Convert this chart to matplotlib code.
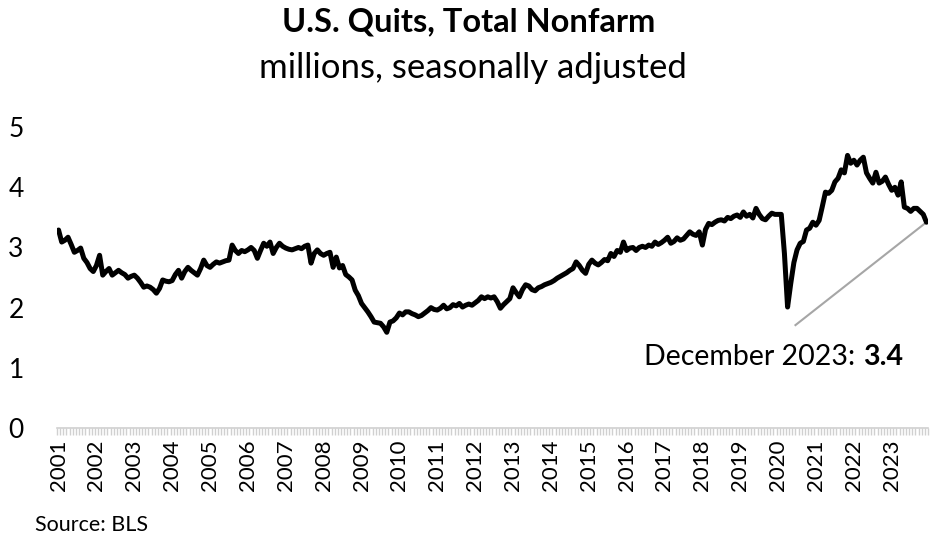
import matplotlib
matplotlib.use("Agg")
import matplotlib.pyplot as plt
import numpy as np

plt.rcParams['font.family'] = ['Lato', 'DejaVu Sans']

# Monthly quits, total nonfarm (millions, SA), Jan 2001 - Dec 2023
q2001 = [3.29, 3.09, 3.12, 3.17, 3.05, 2.92, 2.95, 2.99, 2.82, 2.75, 2.65, 2.60]
q2002 = [2.70, 2.87, 2.54, 2.60, 2.65, 2.54, 2.58, 2.62, 2.58, 2.55, 2.49, 2.52]
q2003 = [2.54, 2.49, 2.42, 2.34, 2.36, 2.34, 2.30, 2.24, 2.32, 2.46, 2.44, 2.43]
q2004 = [2.45, 2.55, 2.62, 2.49, 2.60, 2.67, 2.62, 2.58, 2.54, 2.65, 2.79, 2.70]
q2005 = [2.67, 2.72, 2.76, 2.74, 2.76, 2.78, 2.79, 3.04, 2.95, 2.90, 2.95, 2.93]
q2006 = [2.96, 3.00, 2.95, 2.82, 2.95, 3.07, 3.02, 3.09, 2.90, 3.00, 3.07, 3.02]
q2007 = [2.99, 2.97, 2.96, 2.98, 3.00, 2.98, 3.02, 3.04, 2.74, 2.90, 2.96, 2.90]
q2008 = [2.87, 2.90, 2.92, 2.67, 2.84, 2.66, 2.70, 2.55, 2.51, 2.46, 2.29, 2.20]
q2009 = [2.07, 2.00, 1.93, 1.85, 1.76, 1.75, 1.74, 1.68, 1.59, 1.76, 1.78, 1.83]
q2010 = [1.91, 1.88, 1.93, 1.93, 1.90, 1.88, 1.85, 1.87, 1.91, 1.95, 2.00, 1.97]
q2011 = [1.96, 1.99, 2.04, 1.98, 2.00, 2.05, 2.03, 2.07, 2.01, 2.04, 2.06, 2.04]
q2012 = [2.08, 2.12, 2.18, 2.15, 2.18, 2.16, 2.18, 2.10, 1.99, 2.05, 2.10, 2.15]
q2013 = [2.33, 2.25, 2.18, 2.30, 2.38, 2.36, 2.30, 2.28, 2.33, 2.35, 2.38, 2.40]
q2014 = [2.42, 2.45, 2.49, 2.52, 2.55, 2.58, 2.62, 2.65, 2.76, 2.70, 2.62, 2.57]
q2015 = [2.72, 2.79, 2.74, 2.71, 2.75, 2.80, 2.78, 2.90, 2.85, 2.95, 2.92, 3.09]
q2016 = [2.95, 2.99, 3.00, 2.95, 3.00, 3.02, 3.00, 3.04, 3.02, 3.09, 3.05, 3.08]
q2017 = [3.12, 3.17, 3.07, 3.10, 3.16, 3.12, 3.14, 3.20, 3.26, 3.22, 3.20, 3.26]
q2018 = [3.04, 3.30, 3.40, 3.38, 3.42, 3.45, 3.46, 3.44, 3.50, 3.48, 3.52, 3.54]
q2019 = [3.50, 3.59, 3.52, 3.55, 3.49, 3.65, 3.55, 3.48, 3.46, 3.52, 3.57, 3.55]
q2020 = [3.55, 3.55, 2.90, 2.01, 2.40, 2.75, 2.96, 3.07, 3.10, 3.29, 3.32, 3.42]
q2021 = [3.37, 3.45, 3.68, 3.92, 3.90, 3.95, 4.09, 4.15, 4.29, 4.24, 4.53, 4.40]
q2022 = [4.45, 4.37, 4.45, 4.50, 4.24, 4.15, 4.07, 4.25, 4.07, 4.10, 4.17, 4.05]
q2023 = [3.95, 4.00, 3.87, 4.09, 3.67, 3.65, 3.60, 3.65, 3.65, 3.60, 3.55, 3.42]

years = list(range(2001, 2024))
year_labels = [str(y) for y in years]
values = (q2001 + q2002 + q2003 + q2004 + q2005 + q2006 + q2007 + q2008 + q2009
          + q2010 + q2011 + q2012 + q2013 + q2014 + q2015 + q2016 + q2017 + q2018
          + q2019 + q2020 + q2021 + q2022 + q2023)
yticks = [0, 1, 2, 3, 4, 5]
last_label = "December 2023:"
last_value = "3.4"

n = len(values)
x = np.arange(n)

fig = plt.figure(figsize=(9.31, 5.41), dpi=100)
ax = fig.add_axes([0.0612, 0.2089, 0.9356, 0.5561])

ax.plot(x, values, color='black', lw=3.6, solid_joinstyle='round', solid_capstyle='round')

ax.set_xlim(-0.5, n - 0.5)
ax.set_ylim(0, 5)

# y axis
ax.set_yticks(yticks)
ax.set_yticklabels([str(t) for t in yticks])
ax.tick_params(axis='y', length=0, pad=24, labelsize=19, labelcolor='black')

# x axis: minor ticks at each month boundary, labels at each January
ax.set_xticks([12 * i for i in range(len(years))])
ax.set_xticklabels(year_labels, rotation=90)
ax.set_xticks(np.arange(-0.5, n, 1), minor=True)
ax.tick_params(axis='x', which='major', length=0, pad=8, labelsize=16)
ax.tick_params(axis='x', which='minor', length=5, width=1.0, color='#d0d0d0', direction='out')

for s in ['left', 'right', 'top']:
    ax.spines[s].set_visible(False)
ax.spines['bottom'].set_color('#d0d0d0')
ax.spines['bottom'].set_linewidth(1.2)

# annotation leader line
ax.plot([233.5, n - 1], [1.71, values[-1]], color='#a6a6a6', lw=1.5, zorder=1)
t_val = ax.text(267.5, 1.18, last_value, fontsize=20.5, fontweight='bold',
                ha='right', va='center')
ax.annotate(last_label + " ", xy=(0, 0), xycoords=t_val, ha='right', va='bottom',
            fontsize=20.5)

fig.text(0.503, 0.96, "U.S. Quits, Total Nonfarm", ha='center', va='center',
         fontsize=23.5, fontweight='bold')
fig.text(0.508, 0.875, "millions, seasonally adjusted", ha='center', va='center',
         fontsize=25)
fig.text(0.038, 0.03, "Source: BLS", ha='left', va='center', fontsize=15.5)

fig.savefig("out.png", dpi=100)
